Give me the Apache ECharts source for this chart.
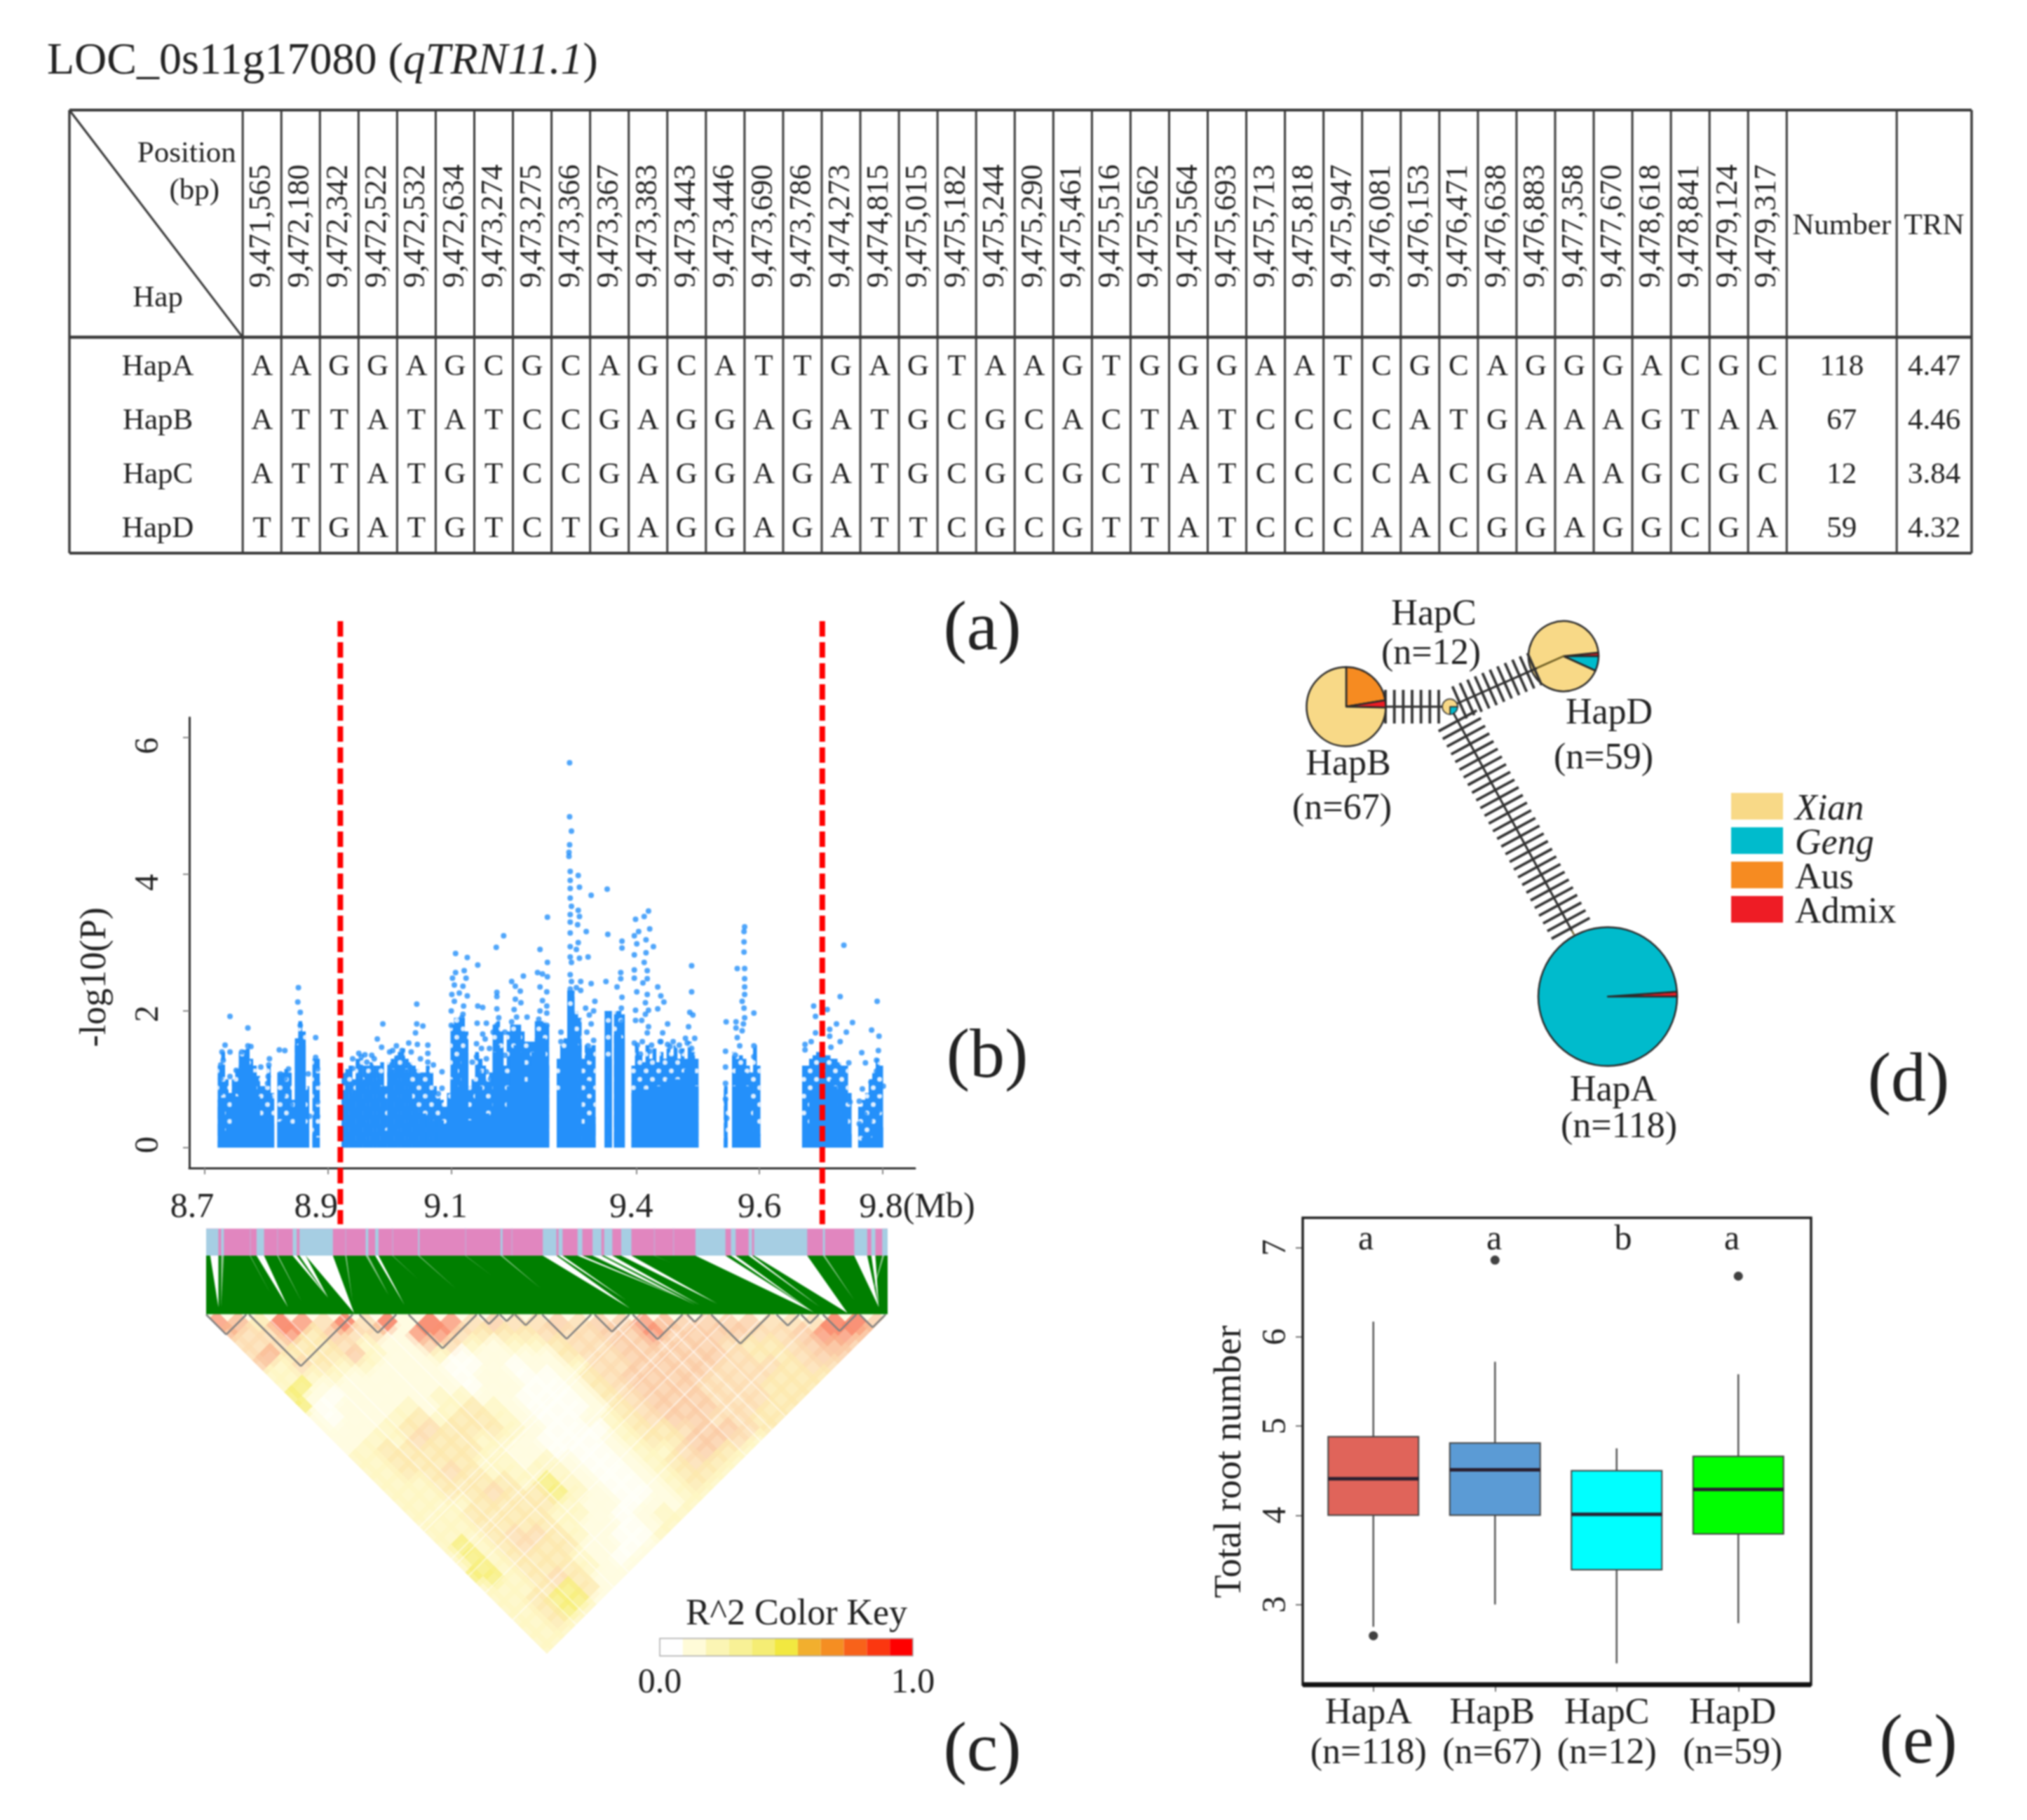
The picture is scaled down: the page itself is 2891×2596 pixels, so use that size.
<!DOCTYPE html>
<html><head><meta charset="utf-8">
<style>html,body{margin:0;padding:0;background:#fff}#c{width:2891px;height:2596px;filter:blur(1px)}</style>
<script src="https://cdn.jsdelivr.net/npm/echarts@6/dist/echarts.min.js"></script>
</head><body><div id="c"></div>
<script>
// ---------- (a) haplotype table ----------
const positions=['9,471,565','9,472,180','9,472,342','9,472,522','9,472,532','9,472,634','9,473,274','9,473,275','9,473,366','9,473,367','9,473,383','9,473,443','9,473,446','9,473,690','9,473,786','9,474,273','9,474,815','9,475,015','9,475,182','9,475,244','9,475,290','9,475,461','9,475,516','9,475,562','9,475,564','9,475,693','9,475,713','9,475,818','9,475,947','9,476,081','9,476,153','9,476,471','9,476,638','9,476,883','9,477,358','9,477,670','9,478,618','9,478,841','9,479,124','9,479,317'];
const hapNames=['HapA','HapB','HapC','HapD'];
const hapAlleles=['AAGGAGCGCAGCATTGAGTAAGTGGGAATCGCAGGGACGC','ATTATATCCGAGGAGATGCGCACTATCCCCATGAAAGTAA','ATTATGTCCGAGGAGATGCGCGCTATCCCCACGAAAGCGC','TTGATGTCTGAGGAGATTCGCGTTATCCCAACGGAGGCGA'];
const hapNumber=['118','67','12','59'];
const hapTRN=['4.47','4.46','3.84','4.32'];
// ---------- (b) association scan ----------
const scanTicksX=[8.7,8.9,9.1,9.4,9.6,9.8];
const scanTicksY=[0,2,4,6];
const candidateBounds=[8.92,9.702];
const denseBinWidth=0.0057;
const denseBlocks=[
[8.7242,[.7,.73,.25,.2,.8,.75,1.2,1.28,1.3,1.2,1.1,.75,.45,.45,.42,.35]],
[8.8209,[.38,.4,.4,.3,.3,1.5,1.7,1.5,.25,0,.2,.15]],
[8.9252,[.8,.9,.8,.75,1,1.05,1,1.05,1.1,1.1,1,.9,.25,1.1,1.15,1.2,1.2,1.2,1.15,.9,.7,.5,.5,.5,.45,.45,.4,.4,.4,.35,.55,1,1.3,.9,1.3,1.4,.4,.55,.9,.9,.7,.5,.45,1.4,1.5,1.3,.5,.9,1.4,1.5,1.65,1.4,.9,1.2,1.4,1.6,1.7,1.6,1.2]],
[9.2742,[.8,1.3,1.4,2,2,1.6,1.5,.3]],
[9.3197,[.45,.45,.45]],
[9.3519,[1.3,1.3]],
[9.3671,[1.65,1.65,1.6]],
[9.3955,[.8,.85,.8,.85,.85,.9,.85,.9,.9,.95,1,1,1,1,1.1,1.15,1.3,1.3,.9]],
[9.5453,[.15]],
[9.5586,[.9,1.15,1.2,1.1,.9,.3,.7,.2]],
[9.6723,[.4,.3,.8,.85,.9,.9,.9,.9,1,.9,.85,.85,.6,.2]],
[9.7633,[.1,.15,.15,.15,.3,.6,.3]]
];
const cloudBlocks=[
[8.7242,[1.2,1.4,1,.8,1,1.15,1.4,1.43,1.45,1.3,1.2,1.05,.9,.9,1.2,.8]],
[8.8209,[1.1,1.1,1.15,1.1,.7,1.6,1.85,1.7,.9,0,1.3,1.3]],
[8.9252,[1.1,1.15,1.2,1,1.3,1.3,1.2,1.2,1.25,1.2,1.2,1.25,.9,1.25,1.3,1.35,1.4,1.45,1.3,1.25,1.2,1.15,1.1,1.1,1.2,1.1,.9,.75,.7,.6,.8,1.8,1.9,1.9,1.9,1.7,.9,1,1.4,1.3,1.2,1,1.1,1.8,1.85,1.7,1.2,1.7,1.8,1.8,1.8,1.7,1.55,1.55,1.55,1.85,1.85,1.85,1.8]],
[9.2742,[1.3,1.5,1.6,2.3,2.3,2,1.9,1.3]],
[9.3197,[1.5,1.5,1.5]],
[9.3519,[2,2]],
[9.3671,[2,2,1.95]],
[9.3955,[1.2,1.5,1.35,1.25,1.5,1.3,1.45,1.25,1.4,1.3,1.45,1.35,1.5,1.3,1.45,1.3,1.55,1.4,1.3]],
[9.5453,[.9]],
[9.5586,[1.4,1.3,1.35,1.3,1.2,1.1,1.5,1.2]],
[9.6723,[1.2,1.2,1.3,1.35,1.4,1.4,1.35,1.35,1.3,1.3,1.25,1.2,1.2,.8]],
[9.7633,[.6,.7,.8,1,1.1,1.3,1.2]]
];
const loosePoints=[[8.741,1.92],[8.77,1.75],[8.733,1.5],[8.741,1.4],[8.728,1.4],[8.726,1.21],[8.726,1.01],[8.726,.8],[8.73,1.28],[8.751,1.13],[8.741,1.04],[8.77,1.49],[8.76,1.4],[8.775,1.48],[8.768,1.35],[8.791,1.18],[8.805,1.3],[8.804,1.21],[8.803,1.04],[8.802,.94],[8.806,.74],[8.792,.63],[8.821,1.43],[8.83,1.42],[8.836,1.15],[8.823,1.08],[8.83,1.01],[8.827,.77],[8.84,.63],[8.852,2.34],[8.851,2.13],[8.855,1.98],[8.855,1.79],[8.88,1.61],[8.88,1.32],[8.883,1.15],[8.883,.94],[8.883,.67],[8.87,.46],[8.883,.46],[8.868,1.08],
[8.989,1.81],[9.044,2.1],[9.044,1.81],[9.054,1.78],[9.042,1.68],[8.98,1.59],[8.987,1.47],[9.031,1.53],[9.045,1.51],[9.062,1.5],[9.062,1.38],[9.011,1.49],[9.005,1.42],[8.971,1.35],[8.954,1.33],[8.94,1.16],[8.963,1.25],[9.085,1.11],[9.085,.87],[9.079,.79],[9.071,1.21],[9.062,1.25],[9.107,2.84],[9.126,2.78],[9.143,2.67],[9.173,2.93],[9.185,3.1],[9.244,2.9],[9.256,3.37],[9.256,2.71],[9.107,2.56],[9.121,2.59],[9.124,2.48],[9.102,2.48],[9.105,2.38],[9.119,2.36],[9.101,2.24],[9.113,2.26],[9.126,2.22],[9.105,2.14],[9.12,2.07],[9.1,2],[9.119,1.95],[9.117,1.9],[9.1,1.79],[9.143,2.07],[9.151,2.05],[9.142,1.82],[9.157,1.82],[9.174,2.27],[9.174,2.21],[9.174,2.03],[9.177,1.9],[9.174,1.79],[9.168,1.69],[9.187,1.69],[9.198,2.43],[9.204,2.36],[9.217,2.51],[9.212,2.29],[9.204,2.17],[9.213,2.12],[9.202,2.02],[9.206,1.91],[9.223,1.91],[9.198,1.84],[9.24,2.56],[9.248,2.54],[9.256,2.5],[9.244,2.35],[9.255,2.28],[9.248,2.15],[9.255,2.07],[9.244,2],[9.255,1.97],[9.242,1.88],[9.255,1.79],[9.151,1.66],[9.155,1.59],[9.141,1.52],[9.149,1.45],[9.162,1.45],[9.141,1.33],[9.157,1.3],[9.134,1.25],[9.145,1.11],[9.157,1.11],[9.164,1.01],[9.187,1.35],[8.94,1.3],[8.95,1.38],[8.96,1.36],[8.975,1.3],[9,1.4],[9.02,1.42],[9.035,1.4],[9.05,1.3],
[9.292,5.63],[9.292,4.84],[9.295,4.63],[9.292,4.43],[9.291,4.32],[9.291,4.26],[9.293,4.04],[9.306,3.98],[9.308,3.81],[9.293,3.91],[9.293,3.79],[9.293,3.65],[9.295,3.53],[9.306,3.47],[9.308,3.38],[9.293,3.41],[9.293,3.3],[9.305,3.26],[9.293,3.14],[9.306,3],[9.293,2.94],[9.303,2.9],[9.293,2.79],[9.308,2.77],[9.295,2.71],[9.293,2.53],[9.295,2.43],[9.31,2.43],[9.293,2.32],[9.31,2.3],[9.293,2.2],[9.303,2.34],[9.327,3.69],[9.319,3.16],[9.322,2.79],[9.327,2.4],[9.333,2.14],[9.318,2.04],[9.331,2],[9.324,1.94],[9.327,1.81],[9.32,1.69],[9.331,1.57],[9.322,1.49],[9.327,1.3],[9.327,1.14],[9.322,.94],[9.329,.82],[9.323,.67],[9.353,3.78],[9.354,3.12],[9.351,2.43],[9.377,3.02],[9.377,2.92],[9.375,2.56],[9.375,2.47],[9.369,2.35],[9.377,2.2],[9.376,2.04],[9.371,1.96],[9.377,1.84],[9.278,1.69],[9.278,1.55],
[9.42,3.46],[9.413,3.38],[9.399,3.34],[9.422,3.2],[9.404,3.16],[9.397,3.1],[9.416,3.04],[9.401,2.98],[9.428,2.94],[9.416,2.85],[9.397,2.82],[9.413,2.71],[9.418,2.59],[9.397,2.6],[9.397,2.48],[9.418,2.47],[9.411,2.41],[9.435,2.35],[9.401,2.28],[9.418,2.24],[9.44,2.22],[9.415,2.12],[9.445,2.13],[9.399,2.01],[9.42,2.01],[9.435,2.03],[9.415,1.95],[9.399,1.86],[9.409,1.86],[9.451,1.81],[9.42,1.77],[9.418,1.68],[9.443,1.68],[9.397,1.53],[9.439,1.55],[9.451,1.51],[9.407,1.37],[9.422,1.41],[9.49,2.66],[9.49,2.28],[9.487,1.98],[9.492,1.94],[9.485,1.77],[9.483,1.53],[9.49,1.45],[9.473,1.41],[9.402,1.5],[9.41,1.55],[9.425,1.5],[9.44,1.55],[9.46,1.55],[9.47,1.5],[9.48,1.6],[9.495,1.6],[9.455,1.48],
[9.576,3.23],[9.575,3.16],[9.575,3.01],[9.575,2.86],[9.564,2.62],[9.576,2.62],[9.576,2.47],[9.576,2.35],[9.576,2.24],[9.572,2.14],[9.575,2.04],[9.591,1.97],[9.576,1.9],[9.546,1.84],[9.562,1.84],[9.574,1.81],[9.562,1.75],[9.572,1.71],[9.564,1.61],[9.568,1.49],[9.591,1.49],[9.545,1.41],[9.561,1.35],[9.591,1.33],[9.545,1.18],[9.545,.94],[9.545,.71],[9.547,.43],
[9.737,2.96],[9.731,2.21],[9.688,2.07],[9.71,2.02],[9.691,1.92],[9.791,2.14],[9.751,1.83],[9.725,1.81],[9.714,1.73],[9.691,1.68],[9.741,1.69],[9.782,1.72],[9.794,1.63],[9.714,1.63],[9.684,1.55],[9.731,1.55],[9.674,1.51],[9.674,1.43],[9.716,1.47],[9.766,1.39],[9.793,1.42],[9.772,1.24],[9.79,1.28],[9.745,1.24],[9.79,1.12],[9.781,.96],[9.767,.86],[9.801,.9],[9.762,.68],[9.773,.65],[9.771,.49],[9.794,.82],[9.794,.55],[9.762,.35],[9.779,.39],[9.794,.31],[9.747,.67]];
// ---------- (c) LD map ----------
const blueSegments=[[0,1.8],[2.2,2.6],[7.4,8.5],[12.7,13.3],[13.7,18.6],[23.4,23.8],[24.8,25.3],[31.1,31.3],[43.2,43.5],[49.4,51.4],[51.7,52.3],[54.5,55.2],[56.7,58],[58.4,59.6],[60.9,62.4],[71.8,76.2],[77,77.7],[79.6,80.1],[80.4,88.2],[90.5,90.8],[95.1,97],[97.6,98.2],[99.2,100]];
const thinSegments=[6.4,10.4,20.4,27.3,38,44.8,65.7,68.5];
const linkGaps=[[14.6,18.6,21.7,.98],[71.8,76.2,89.2,.97],[80.4,88.2,94.1,.98],[.6,1.8,1.8,.88],[2.2,2.6,2.2,.88],[7.4,8.5,12,.88],[6.4,6.5,9.4,.64],[10.4,10.6,14,.78],[12.7,13.3,17.9,.72],[13.7,14.6,17.9,.72],[20.4,20.6,21.5,.8],[23.4,23.8,26.8,.68],[24.8,25.3,29.1,.84],[27.3,27.4,31.1,.4],[31.1,31.3,36.6,.56],[38,38.1,41.9,.34],[43.2,43.5,49.1,.56],[49.4,51.4,62.2,.9],[51.7,52.3,61.6,.76],[54.5,55.2,70.5,.76],[56.7,58,71.8,.84],[58.4,59.6,72.4,.84],[60.9,62.4,75,.82],[65.7,65.8,68.2,.12],[77,77.7,88.8,.94],[79.6,80.1,90.1,.88],[90.5,90.8,95.1,.76],[95.1,97,98.7,.88],[97.6,98.2,98.7,.88],[99.2,99.5,97.7,.68]];
const ldRows=['76387484818745445455765555444885','6447354417743334445575555445776','444334211542122344555554334565','46333521120111134455555433455','5243221110010112445555444344','222211111011001345555444333','2y111111101100134555444333','y101111221100013455544433','y01112123210001345554433','10112323321001234554433','1112343332100023345543','112243322100012335542','12333332110001224532','2233332212100123432','223343222210012332','22233332y21001232','22233433y2100122','222233332110112','22233332210122','2223333211012','222344321002','2y234331101','2y23332101','2y2333211','yy234311','2223y31','223yy1','223y2','2232','222','22','2'];
const ldLevelColor={'0':'#FFFFF8','1':'#FFFCE0','2':'#FDF6C4','3':'#FCE9AE','4':'#FCDDB2','5':'#FBCCA6','6':'#FAB48E','7':'#F99071','8':'#F76A4C','y':'#F6EE78'};
const ldBlocks=[[0,5.9],[6.3,21.5],[22.5,27.9],[29.7,39.7],[40.1,42.9],[43.1,45.1],[45.3,48.5],[49.3,56.5],[57,62.1],[62.6,69.9],[70.6,72.8],[74.1,82.7],[83.7,87],[87.3,89.9],[90.5,95.4],[95.9,99.7]];
const streakDown=[8.6,11.4,19.6,24,58.4,62.7,66,70];
const streakUp=[62.6,64,72,73.5,77,82,90];
const keyColors=['#FFFFFF','#FFFBD8','#FBF5B4','#F8F196','#F5ED74','#F2E840','#F2AF2E','#F58E22','#F8621A','#FB3710','#FF0000'];
// ---------- (d) haplotype network ----------
const groupNames=['Xian','Geng','Aus','Admix'];
const groupColors={Xian:'#F8D987',Geng:'#00BBCC',Aus:'#F68B21',Admix:'#EE1C25'};
const pieHapA=[['Admix',1.3],['Geng',116.7]];
const pieHapB=[['Aus',15],['Admix',2],['Xian',50]];
const pieHapC=[['Geng',3],['Xian',9]];
const pieHapD=[['Admix',1],['Geng',4],['Xian',54]];
const mutationSteps={BC:7,CD:11,CA:28};
// ---------- (e) box plot ----------
const boxCats=['HapA','HapB','HapC','HapD'];
const boxN=['(n=118)','(n=67)','(n=12)','(n=59)'];
const boxStats=[[2.75,4,4.41,4.88,6.17],[3,4,4.51,4.81,5.72],[2.34,3.39,4.01,4.5,4.75],[2.79,3.79,4.29,4.66,5.58]];
const boxOutliers=[[0,2.65],[1,6.86],[3,6.68]];
const boxColors=['#E0645A','#5B9BD5','#00FFFF','#00FF00'];
const boxLetters=['a','a','b','a'];

const FF='Liberation Serif', INK='#222';
const txt=(text,x,y,size)=>({type:'text',x,y,z:50,silent:true,style:{text,fontFamily:FF,fontSize:size,fill:INK,align:'center',verticalAlign:'middle',textAlign:'center',textVerticalAlign:'middle'}});
const cellText=(text,x,y,size,rot)=>({type:'text',x,y,rotation:rot||0,silent:true,style:{text,fontFamily:FF,fontSize:size,fill:INK,align:'center',verticalAlign:'middle',textAlign:'center',textVerticalAlign:'middle'}});
const ln=(a,b,w,c,op)=>({type:'line',silent:true,shape:{x1:a[0],y1:a[1],x2:b[0],y2:b[1]},style:{stroke:c||'#3a3a3a',lineWidth:w,opacity:op==null?1:op}});
const hiddenAxis=(o)=>Object.assign({type:'value',show:false,scale:true,splitLine:{show:false}},o);

const NUMW=2.85,TRNW=1.94,COLS=positions.length,ROWSHIFT=.05;
function renderTable(p,api){
  const c=(x,y)=>api.coord([x,y]);
  const kids=[];
  const xL=-4.49,xR=COLS+NUMW+TRNW,yT=-4.21,yB=4;
  kids.push(ln(c(xL,yT),c(xR,yT),4),ln(c(xL,yB),c(xR,yB),4),ln(c(xL,yT),c(xL,yB),3.5),ln(c(xR,yT),c(xR,yB),3.5),ln(c(xL,0),c(xR,0),4.5),ln(c(xL,yT),c(0,0),3));
  for(let i=0;i<=COLS;i++)kids.push(ln(c(i,yT),c(i,yB),3));
  kids.push(ln(c(COLS+NUMW,yT),c(COLS+NUMW,yB),3));
  positions.forEach((t,i)=>{const q=c(i+.5,-2.06);kids.push(cellText(t,q[0],q[1],44,Math.PI/2));});
  hapNames.forEach((h,r)=>{
    const y=r+.5+ROWSHIFT;let q=c(-2.2,y);kids.push(cellText(h,q[0],q[1],43));
    [...hapAlleles[r]].forEach((a,i)=>{const m=c(i+.5,y);kids.push(cellText(a,m[0],m[1],43));});
    q=c(COLS+NUMW/2,y);kids.push(cellText(hapNumber[r],q[0],q[1],43));
    q=c(COLS+NUMW+TRNW/2,y);kids.push(cellText(hapTRN[r],q[0],q[1],43));
  });
  let q=c(COLS+NUMW/2,-2.06);kids.push(cellText('Number',q[0],q[1],43));
  q=c(COLS+NUMW+TRNW/2,-2.06);kids.push(cellText('TRN',q[0],q[1],43));
  q=c(-1.45,-3.39);kids.push(cellText('Position',q[0],q[1],43));
  q=c(-1.25,-2.71);kids.push(cellText('(bp)',q[0],q[1],43));
  q=c(-2.2,-.72);kids.push(cellText('Hap',q[0],q[1],43));
  return {type:'group',children:kids};
}
const flatten=(blocks)=>{const out=[];blocks.forEach(([start,h])=>h.forEach((v,i)=>{if(v>0)out.push([start+i*denseBinWidth,v]);}));return out;};
const denseData=flatten(denseBlocks), cloudData=flatten(cloudBlocks);

const N=ldRows.length, cellP=100/N, ldCells=[];
ldRows.forEach((row,d)=>[...row].forEach((lv,k)=>ldCells.push({i:k,j:k+d,lv})));
const xShift={8.7:18,8.9:17,9.1:8,9.4:7};
const scanRich={};
scanTicksX.forEach((v,i)=>{scanRich['s'+i]={fontFamily:FF,fontSize:50,color:INK,padding:v===9.8?[0,0,0,98]:[0,2*(xShift[v]||0),0,0]};});
const yPad=[[0,0,0,8],[0,8,0,0],[0,24,0,0],[0,24,0,0]];
const yRich={};
yPad.forEach((p,i)=>{yRich['y'+i]={fontFamily:FF,fontSize:48,color:INK,padding:p};});
const boxShift=[14,8,28,16];
const boxRich={};
boxShift.forEach((s,i)=>{boxRich['b'+i]={fontFamily:FF,fontSize:52,color:INK,lineHeight:57,padding:[0,s,0,0]};});

const nodes={A:[2293,1421.5,99],B:[1920,1008,56.5],C:[2068,1008,11],D:[2230,936,50]};
const links=[
 {a:'C',b:'B',n:mutationSteps.BC,first:16,last:92,end:92,hatch:48},
 {a:'C',b:'D',n:mutationSteps.CD,first:15,last:132,end:178,hatch:50},
 {a:'C',b:'A',n:mutationSteps.CA,first:23,last:360,end:370,hatch:62}];
function renderNet(p,api){
  const l=links[p.dataIndex],A=nodes[l.a],B=nodes[l.b];
  const dx=B[0]-A[0],dy=B[1]-A[1],L=Math.hypot(dx,dy),ux=dx/L,uy=dy/L;
  const at=(d,o)=>api.coord([A[0]+ux*d-uy*o,A[1]+uy*d+ux*o]);
  const kids=[ln(at(0,0),at(l.last+4,0),3,'#2a2a2a')];
  if(l.end>l.last+4)kids.push(ln(at(l.last+4,0),at(l.end,0),2.5,'#6a5a20'));
  for(let i=0;i<l.n;i++){const d=l.first+(l.last-l.first)*i/(l.n-1);kids.push(ln(at(d,-l.hatch/2),at(d,l.hatch/2),3.8,'#333'));}
  return {type:'group',children:kids};
}
const pieSeries=(data,node,start,z)=>({type:'pie',center:[node[0],node[1]],radius:[0,node[2]],startAngle:start,clockwise:true,silent:true,z:z||4,label:{show:false},labelLine:{show:false},minAngle:0,
  data:data.map(([name,value])=>({name,value,itemStyle:{color:groupColors[name],borderColor:'#2a2a2a',borderWidth:node[2]<20?1.5:2.5}}))});

const grids=[
 {left:99,top:157,width:2713,height:632},
 {left:270,top:1023.5,width:1035,height:642.5},
 {left:294,top:1752.5,width:972,height:38.5},
 {left:294,top:1791,width:972,height:83.5},
 {left:294,top:1875,width:972,height:484},
 {left:941,top:2337,width:361,height:25},
 {left:1800,top:850,width:700,height:650},
 {left:1872,top:1737,width:694,height:666}];
const xAxes=[
 hiddenAxis({gridIndex:0,min:-4.49,max:44.79}),
 {type:'value',gridIndex:1,min:8.675,max:9.8524,splitLine:{show:false},axisLine:{show:true,onZero:false,lineStyle:{color:'#333',width:3}},
  axisTick:{show:true,length:9,lineStyle:{color:'#888',width:2},customValues:scanTicksX},
  axisLabel:{customValues:scanTicksX,margin:32,hideOverlap:false,formatter:v=>{const i=scanTicksX.findIndex(t=>Math.abs(t-v)<1e-6);return `{s${i}|${i===5?'9.8(Mb)':scanTicksX[i].toFixed(1)}}`;},rich:scanRich}},
 hiddenAxis({gridIndex:2,min:0,max:100}),
 hiddenAxis({gridIndex:3,min:0,max:100}),
 hiddenAxis({gridIndex:4,min:0,max:100}),
 {type:'value',gridIndex:5,min:0,max:1,splitLine:{show:false},axisLine:{show:false},axisTick:{show:false},axisLabel:{customValues:[0,1],margin:14,fontFamily:FF,fontSize:50,color:INK,formatter:v=>v.toFixed(1),hideOverlap:false,alignMinLabel:'center',alignMaxLabel:'center'}},
 hiddenAxis({gridIndex:6,min:1800,max:2500}),
 {type:'category',gridIndex:7,data:boxCats,axisLine:{show:false},axisTick:{show:true,alignWithLabel:true,length:10,lineStyle:{color:'#777',width:2}},
  axisLabel:{margin:13,interval:0,formatter:(v,i)=>`{b${i}|${v}}\n{b${i}|${boxN[i]}}`,rich:boxRich}}
];
const yAxes=[
 hiddenAxis({gridIndex:0,inverse:true,min:-4.21,max:4}),
 {type:'value',gridIndex:1,min:-0.297,max:6.29,splitLine:{show:false},axisLine:{show:true,onZero:false,lineStyle:{color:'#333',width:3}},
  axisTick:{show:true,length:9,lineStyle:{color:'#888',width:2},customValues:scanTicksY},
  axisLabel:{customValues:scanTicksY,rotate:90,margin:34,hideOverlap:false,formatter:v=>`{y${scanTicksY.indexOf(v)}|${v}}`,rich:yRich},
  name:'-log10(P)',nameLocation:'middle',nameRotate:90,nameGap:108,nameTextStyle:{fontFamily:FF,fontSize:52,color:INK,padding:[0,98,0,0]}},
 hiddenAxis({gridIndex:2,min:0,max:1}),
 hiddenAxis({gridIndex:3,inverse:true,min:0,max:1}),
 hiddenAxis({gridIndex:4,inverse:true,min:0,max:50}),
 hiddenAxis({gridIndex:5,min:0,max:1}),
 hiddenAxis({gridIndex:6,inverse:true,min:850,max:1500}),
 {type:'value',gridIndex:7,min:2.101,max:7.334,offset:14,splitLine:{show:false},axisLine:{show:false},
  axisTick:{show:true,length:10,lineStyle:{color:'#777',width:2},customValues:[3,4,5,6,7]},
  axisLabel:{customValues:[3,4,5,6,7],rotate:90,margin:14,fontFamily:FF,fontSize:48,color:INK,hideOverlap:false},
  name:'Total root number',nameLocation:'middle',nameRotate:90,nameGap:76,nameTextStyle:{fontFamily:FF,fontSize:54,color:INK,padding:[0,30,0,0]}}
];
const series=[
 {type:'custom',xAxisIndex:0,yAxisIndex:0,silent:true,clip:false,data:[[0,0]],renderItem:renderTable},
 {type:'bar',name:'cloud',xAxisIndex:1,yAxisIndex:1,silent:true,barWidth:5.5,barGap:'-100%',z:2,
  itemStyle:{color:'#2490FA',decal:{symbol:'circle',symbolSize:1,color:'rgba(255,255,255,.85)',dashArrayX:[[7,11],[0,9,7,2]],dashArrayY:[7,5]}},data:cloudData},
 {type:'bar',name:'dense',xAxisIndex:1,yAxisIndex:1,silent:true,barWidth:5.5,barGap:'-100%',z:3,itemStyle:{color:'#2490FA'},data:denseData},
 {type:'scatter',name:'scan',xAxisIndex:1,yAxisIndex:1,silent:true,symbolSize:8,z:4,itemStyle:{color:'#2490FA'},data:loosePoints},
];
candidateBounds.forEach(x=>series.push({type:'line',xAxisIndex:1,yAxisIndex:1,silent:true,clip:false,z:6,symbol:'none',lineStyle:{color:'#FF0000',width:8,type:[22,8]},data:[[x,7.7],[x,-1.12]]}));
series.push(
 {type:'custom',xAxisIndex:2,yAxisIndex:2,silent:true,clip:false,z:5,data:[[0,0]],renderItem:(p,api)=>{
   const rect=(a,b,c)=>{const s=api.coord([a,1]),e=api.coord([b,0]);return {type:'rect',silent:true,shape:{x:s[0],y:s[1],width:e[0]-s[0],height:e[1]-s[1]},style:{fill:c}};};
   const kids=[rect(0,100,'#E186BF')];
   blueSegments.forEach(s=>kids.push(rect(s[0],s[1],'#A6CEE3')));
   thinSegments.forEach(s=>kids.push(rect(s,s+.16,'#C8A5D0')));
   return {type:'group',children:kids};}},
 {type:'custom',xAxisIndex:3,yAxisIndex:3,silent:true,clip:false,z:5,data:[[0,0]],renderItem:(p,api)=>{
   const s=api.coord([0,0]),e=api.coord([100,1]);
   const kids=[{type:'rect',silent:true,shape:{x:s[0],y:s[1],width:e[0]-s[0],height:e[1]-s[1]},style:{fill:'#007F00'}}];
   linkGaps.forEach(g=>kids.push({type:'polygon',silent:true,shape:{points:[api.coord([g[0],0]),api.coord([g[1],0]),api.coord([g[2],g[3]])]},style:{fill:'#FFFFFF',opacity:(g[1]-g[0])<.5?.55:1}}));
   return {type:'group',children:kids};}},
 {type:'custom',xAxisIndex:4,yAxisIndex:4,silent:true,clip:false,z:1,data:[[0,0]],renderItem:(p,api)=>({type:'polygon',silent:true,shape:{points:[api.coord([0,0]),api.coord([100,0]),api.coord([50,50])]},style:{fill:'#FFFCE4'}})},
 {type:'custom',xAxisIndex:4,yAxisIndex:4,silent:true,clip:false,z:2,data:ldCells.map(c=>[(c.i+c.j+1)/2*cellP,(c.j-c.i+1)/2*cellP]),renderItem:(p,api)=>{
   const c=ldCells[p.dataIndex],mx=api.value(0),my=api.value(1),h=cellP/2*1.35,col=ldLevelColor[c.lv];
   return {type:'polygon',silent:true,shape:{points:[api.coord([mx,my-h]),api.coord([mx+h,my]),api.coord([mx,my+h]),api.coord([mx-h,my])]},style:{fill:col,opacity:.72}};}},
 {type:'custom',xAxisIndex:4,yAxisIndex:4,silent:true,clip:false,z:3,data:[[0,0]],renderItem:(p,api)=>{
   const poly=pts=>({type:'polygon',silent:true,shape:{points:pts.map(q=>api.coord(q))},style:{fill:'#FFFFFF'}});
   const kids=[poly([[0,0],[-6,0],[44,56],[50,56],[50,50]]),poly([[100,0],[106,0],[56,56],[50,56],[50,50]])];
   streakDown.forEach(s=>kids.push(ln(api.coord([s,0]),api.coord([s+(100-s)/2,(100-s)/2]),2,'#FFFFFF',.55)));
   streakUp.forEach(s=>kids.push(ln(api.coord([s,0]),api.coord([s/2,s/2]),2,'#FFFFFF',.55)));
   ldBlocks.forEach(b=>{kids.push(ln(api.coord([b[0],0]),api.coord([(b[0]+b[1])/2,(b[1]-b[0])/2]),2.5,'#808080'),ln(api.coord([(b[0]+b[1])/2,(b[1]-b[0])/2]),api.coord([b[1],0]),2.5,'#808080'));});
   return {type:'group',children:kids};}},
 {type:'custom',xAxisIndex:5,yAxisIndex:5,silent:true,clip:false,z:6,data:keyColors.map((c,i)=>[i/keyColors.length,0]),renderItem:(p,api)=>{
   const s=api.coord([api.value(0),1]),e=api.coord([api.value(0)+1/keyColors.length,0]);
   return {type:'rect',silent:true,shape:{x:s[0],y:s[1],width:e[0]-s[0],height:e[1]-s[1]},style:{fill:keyColors[p.dataIndex]}};}},
 {type:'custom',xAxisIndex:6,yAxisIndex:6,silent:true,clip:false,z:3,data:links.map((l,i)=>[i,0]),renderItem:renderNet},
 pieSeries(pieHapA,nodes.A,4),pieSeries(pieHapB,nodes.B,90),pieSeries(pieHapD,nodes.D,6,2),pieSeries(pieHapC,nodes.C,0,6),
 {type:'custom',xAxisIndex:7,yAxisIndex:7,silent:true,clip:false,data:boxStats.map((s,i)=>[i,...s]),renderItem:(p,api)=>{
   const i=api.value(0),lo=api.value(1),q1=api.value(2),me=api.value(3),q3=api.value(4),hi=api.value(5);
   const w=129/2,xc=api.coord([i,me])[0],Y=v=>api.coord([i,v])[1];
   return {type:'group',children:[
     ln([xc,Y(hi)],[xc,Y(q3)],2.5,'#555'),ln([xc,Y(q1)],[xc,Y(lo)],2.5,'#555'),
     {type:'rect',silent:true,shape:{x:xc-w,y:Y(q3),width:2*w,height:Y(q1)-Y(q3)},style:{fill:boxColors[p.dataIndex],stroke:'#444',lineWidth:2}},
     ln([xc-w,Y(me)],[xc+w,Y(me)],5,'#2a2030')]};}},
 {type:'scatter',xAxisIndex:7,yAxisIndex:7,silent:true,symbolSize:13,itemStyle:{color:'#111'},data:boxOutliers}
);
const letterX=[1948,2131,2315,2470];
const gfx=[
 {type:'text',x:67,y:88,z:50,silent:true,style:{text:'{a|LOC_0s11g17080 (}{b|qTRN11.1}{a|)}',verticalAlign:'middle',textVerticalAlign:'middle',fill:INK,rich:{a:{fontFamily:FF,fontSize:64,fill:INK},b:{fontFamily:FF,fontSize:64,fontStyle:'italic',fill:INK}}}},
 txt('(a)',1401,900,100),txt('(b)',1408,1510,100),txt('(c)',1401,2499,100),txt('(d)',2722,1544,100),txt('(e)',2736,2488,100),
 txt('R^2 Color Key',1136,2303,52),
 txt('HapC',2045,877,52),txt('(n=12)',2041,933,52),txt('HapD',2295,1018,52),txt('(n=59)',2287,1082,52),
 txt('HapB',1923,1091,52),txt('(n=67)',1914,1154,52),txt('HapA',2301,1556,52),txt('(n=118)',2309,1608,52),
 ...boxLetters.map((t,i)=>txt(t,letterX[i],1769,50)),
 {type:'rect',z:40,silent:true,shape:{x:1858,y:1737,width:725,height:666},style:{fill:'transparent',stroke:'#222',lineWidth:3.5}},
 {type:'line',z:41,silent:true,shape:{x1:1858,y1:2403,x2:2583,y2:2403},style:{stroke:'#111',lineWidth:7}},
 {type:'rect',z:41,silent:true,shape:{x:941,y:2337,width:361,height:25},style:{fill:'transparent',stroke:'#AAA',lineWidth:1.5}}
];
const chart=echarts.init(document.getElementById('c'),null,{renderer:'canvas',width:2891,height:2596});
chart.setOption({
 animation:false,backgroundColor:'#FFFFFF',textStyle:{fontFamily:FF},
 legend:{show:true,orient:'vertical',left:2469,top:1126,padding:0,itemWidth:74,itemHeight:38,itemGap:-6,selectedMode:false,icon:'rect',data:groupNames,
   itemStyle:{borderWidth:0},textStyle:{fontFamily:FF,fontSize:52,lineHeight:38,color:INK,padding:[10,0,0,12],rich:{i:{fontFamily:FF,fontSize:52,lineHeight:38,fontStyle:'italic',color:INK}}},
   formatter:n=>(n==='Xian'||n==='Geng')?`{i|${n}}`:n},
 grid:grids,xAxis:xAxes,yAxis:yAxes,series,graphic:{elements:gfx}
});
</script></body></html>
